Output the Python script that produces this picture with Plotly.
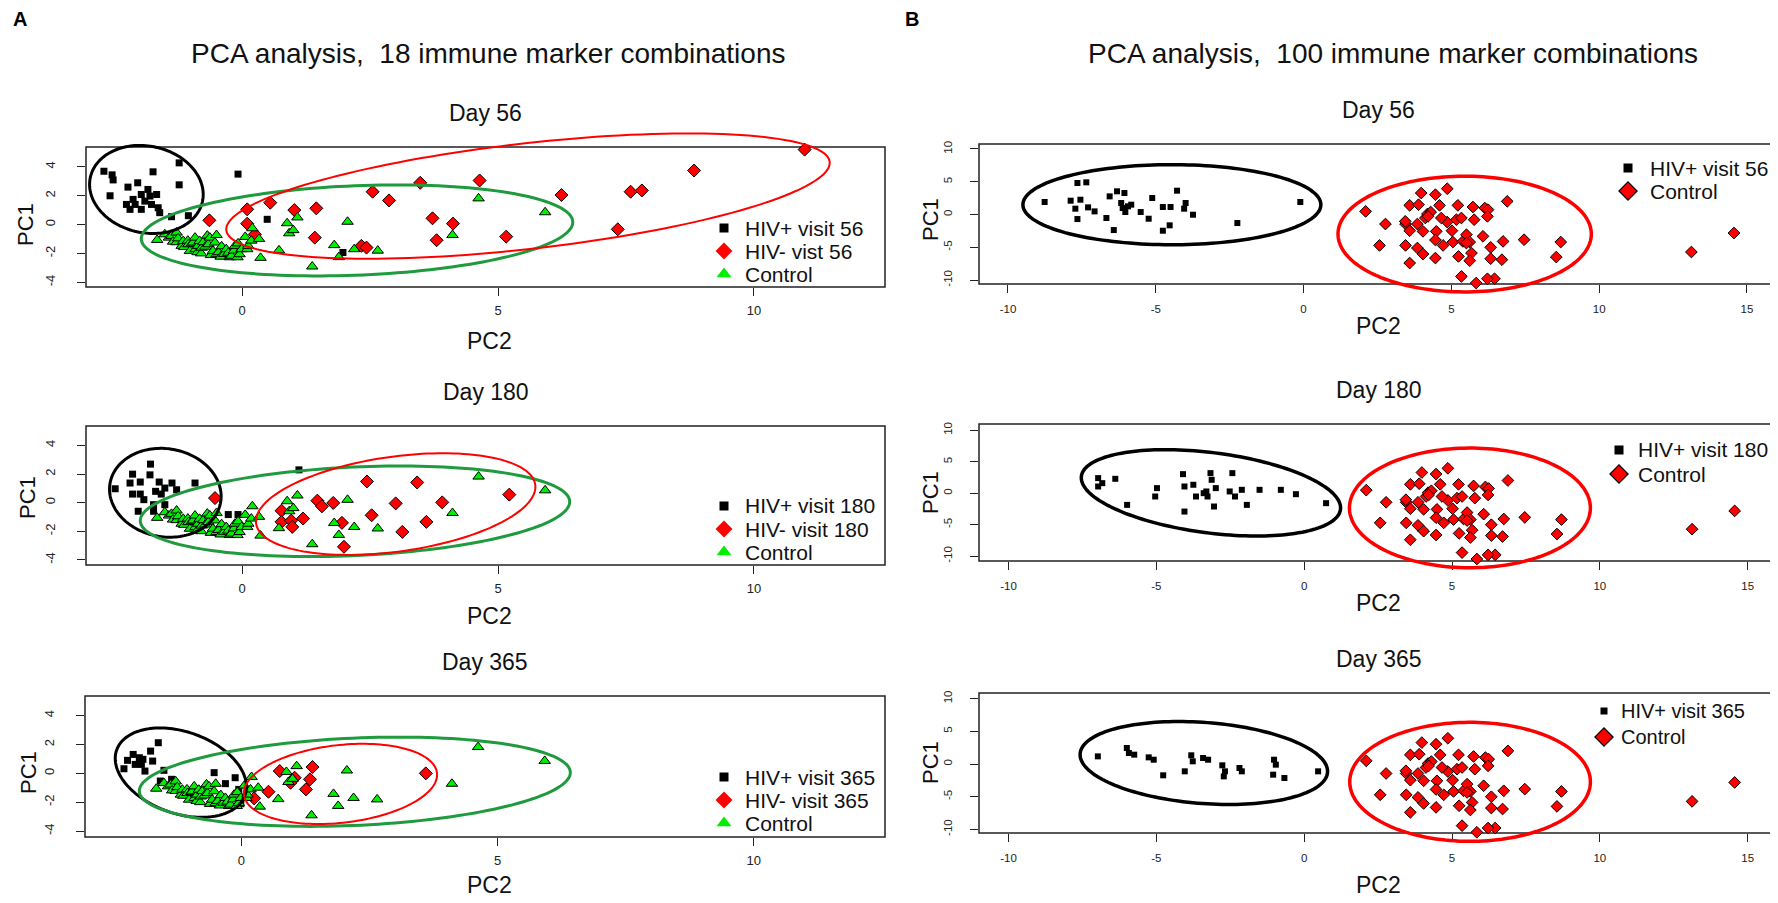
import numpy as np
import plotly.graph_objects as go

W, H = 1778, 903
FONT = "Liberation Sans, Arial, sans-serif"

# ---------------- panel A: 18 immune marker combinations ----------------
# controls are the same subjects at every visit
a_ctrl_x = [-1.66, -1.51, -1.43, -1.38, -1.35, -1.28, -1.28, -1.25, -1.18, -1.15, -1.13, -1.06, -1.05,
            -1.02, -0.98, -0.96, -0.92, -0.91, -0.87, -0.86, -0.83, -0.80, -0.79, -0.76, -0.72, -0.68,
            -0.66, -0.63, -0.61, -0.57, -0.53, -0.50, -0.50, -0.46, -0.42, -0.40, -0.35, -0.31, -0.27,
            -0.24, -0.21, -0.16, -0.14, -0.09, -0.08, -0.05, -0.01, 0.06, 0.10, 0.12, 0.18, 0.33,
            0.20, 0.36, 0.72, 0.88, 0.92, 1.00, 1.08, 1.37, 1.80, 1.89, 2.06, 2.19, 2.65, 4.11, 4.62, 5.92]
a_ctrl_y = [-1.06, -0.67, -0.90, -0.78, -1.18, -0.55, -1.22, -0.95, -1.47, -1.13, -1.55, -1.11, -1.36,
            -1.82, -1.30, -1.24, -0.90, -1.70, -1.91, -1.47, -1.13, -1.99, -1.60, -1.22, -1.53, -0.76,
            -1.36, -0.90, -2.11, -1.82, -1.24, -2.05, -0.72, -1.91, -2.22, -1.50, -2.03, -1.70, -1.95,
            -2.26, -2.16, -1.80, -1.47, -2.26, -1.30, -2.05, -1.70, -0.85, -1.70, -1.47, -1.11, -0.99,
            -0.25, -2.30, -1.78, 0.10, -0.60, -0.38, 0.50, -2.90, -1.42, -2.25, 0.20, -1.70, -1.80,
            -0.72, 1.82, 0.86]

a_pos56_x = [-2.70, -2.54, -2.52, -2.58, -1.74, -1.23, -1.23, -0.08, -2.23, -2.04, -1.84, -1.67, -1.97,
             -2.13, -2.26, -2.19, -1.97, -1.77, -1.64, -1.61, -1.90, -2.09, -1.80, -1.38, -1.05, 0.49, 1.97]
a_pos56_y = [3.70, 3.45, 3.10, 2.00, 3.66, 4.28, 2.76, 3.50, 2.60, 2.90, 2.44, 2.09, 2.09,
             1.75, 1.40, 1.06, 1.06, 1.40, 1.17, 0.83, 1.63, 1.40, 1.98, 0.55, 0.62, 0.37, -1.93]
a_neg56_x = [-0.64, 0.10, 0.55, 1.02, 1.45, 2.55, 2.87, 3.48, 0.10, 1.42, 3.72, 4.12, 3.80, 2.33,
             2.43, 0.25, 4.64, 6.24, 7.59, 7.81, 8.83, 10.99, 5.16, 7.34]
a_neg56_y = [0.30, 1.06, 1.52, 1.01, 1.13, 2.28, 1.68, 2.90, 0.07, -0.90, 0.44, 0.07, -1.08, -1.47,
             -1.59, -0.67, 3.06, 2.05, 2.28, 2.37, 3.75, 5.20, -0.83, -0.32]

a_pos180_x = [-2.48, -2.14, -1.79, -1.80, -2.19, -1.99, -2.14, -1.99, -1.92, -1.62, -1.58, -1.51,
              -1.37, -1.28, -1.69, -0.92, -1.73, -1.51, -2.03, -1.73, 1.11, -0.27, -0.08]
a_pos180_y = [0.97, 1.99, 2.69, 1.94, 1.37, 1.44, 0.60, 0.60, 0.21, 1.44, 0.60, 1.02,
              1.37, 0.90, 0.79, 1.37, -0.14, -0.14, -0.60, -0.60, 2.29, -0.83, -0.83]
a_neg180_x = [-0.53, 2.44, 3.42, 5.22, 3.91, 3.00, 1.78, 1.47, 1.56, 1.19, 0.77, 0.77, 0.96, 0.98,
              1.95, 2.53, 3.60, 3.13, 1.99]
a_neg180_y = [0.32, 1.48, 1.41, 0.56, 0.02, -0.05, -0.02, 0.14, -0.25, -1.11, -0.56, -1.34, -1.25,
              -1.69, -1.41, -0.88, -1.34, -2.04, -3.08]

a_pos365_x = [-2.29, -2.22, -2.11, -1.99, -1.95, -1.88, -2.07, -1.92, -1.77, -1.62, -1.73, -1.51,
              -1.58, -1.36, -0.53, -0.31, -0.12, -0.05, -0.01]
a_pos365_y = [0.32, 0.90, 1.31, 1.08, 0.62, 0.16, 0.62, 0.97, 1.54, 2.12, 0.85, 0.21,
              -0.53, -0.41, 0.05, -0.71, -0.30, -1.11, -2.10]
a_neg365_x = [0.75, 1.04, 1.39, 1.34, 1.26, 0.53, 0.25, 3.60, 0.96]
a_neg365_y = [0.16, -0.30, 0.44, -0.41, -1.11, -1.27, -1.73, 0.00, -0.65]

# ---------------- panel B: 100 immune marker combinations ----------------
b_ctrl_x = [2.10, 2.77, 2.57, 3.59, 3.45, 3.59, 3.45, 3.59, 3.85, 3.85, 3.89, 3.98, 4.04, 4.04, 4.12,
            4.19, 4.30, 4.46, 4.49, 4.46, 4.46, 4.60, 4.72, 4.86, 4.86, 5.02, 5.05, 5.17, 5.22, 5.24,
            5.34, 5.34, 5.39, 5.51, 5.62, 5.68, 5.62, 5.73, 5.77, 5.84, 6.07, 6.13, 6.24, 6.22, 6.33,
            6.33, 6.46, 6.22, 6.75, 6.71, 6.89, 7.46, 8.55, 8.70, 13.12, 14.56, 3.44, 4.21, 4.66, 5.51]
b_ctrl_y = [0.48, -1.45, -4.71, 1.40, -1.45, -2.47, -4.71, -7.40, -1.45, -5.11, 1.50, 3.28, -2.57,
            -6.03, -0.53, 0.08, 0.38, 3.03, -2.57, -3.89, -6.64, 1.40, -4.71, 3.94, -1.15, -2.47,
            -4.20, -0.79, 1.40, -6.39, -0.53, -9.44, -4.10, -3.08, -4.20, -5.88, -7.04, 1.15, -0.79,
            -10.45, -3.33, 0.99, 0.74, -0.28, -5.01, -6.74, -9.80, -9.80, -4.10, -6.89, 2.01, -3.84,
            -6.49, -4.20, -5.72, -2.82, -1.04, -0.28, -0.53, -4.35]

b_pos56_x = [-8.76, -7.88, -7.65, -7.35, -7.55, -7.72, -7.29, -7.07, -7.65, -6.67, -6.56, -6.31,
             -6.06, -6.17, -6.12, -5.94, -5.83, -6.03, -6.42, -5.51, -5.24, -5.12, -4.76, -4.50,
             -4.76, -4.53, -4.28, -3.99, -4.04, -3.74, -2.24, -0.11]
b_pos56_y = [1.91, 2.11, 4.81, 4.91, 2.26, 0.89, 1.09, 0.48, -0.69, -0.53, 2.77, 3.54,
             3.28, 1.76, 0.99, 1.25, 1.50, 0.38, -2.37, 0.38, -0.64, 2.52, 1.15, 1.15,
             -2.47, -1.65, 3.64, 1.76, 0.89, -0.03, -1.30, 1.91]
b_pos180_x = [-6.97, -6.97, -6.83, -6.39, -5.99, -4.98, -5.04, -4.10, -4.05, -3.75, -3.66, -4.05,
              -3.40, -3.27, -3.17, -3.13, -3.05, -2.99, -2.52, -2.43, -2.34, -2.11, -1.94, -1.51,
              -0.79, -0.28, 0.74, -3.31]
b_pos180_y = [2.39, 1.06, 1.59, 2.28, -1.86, 0.80, -0.53, 3.02, 1.06, 1.33, -0.53, -2.92,
              0.00, -0.53, 3.18, 2.12, -2.12, 0.80, 0.27, 3.18, -0.53, 0.53, -1.86, 0.53,
              0.53, -0.16, -1.59, 0.27]
b_pos365_x = [-6.98, -6.00, -5.93, -5.75, -5.26, -5.09, -4.77, -4.04, -3.82, -3.77, -3.42, -3.25,
              -2.77, -2.68, -2.72, -2.19, -2.11, -1.02, -0.96, -1.05, -0.67, 0.47]
b_pos365_y = [1.17, 2.45, 1.68, 1.43, 1.02, 0.66, -1.73, -1.12, 1.33, 0.41, 0.92, 0.66,
              -0.20, -1.12, -1.89, -0.61, -1.12, 0.66, -0.10, -1.63, -2.14, -1.12]

# tick values
a_xticks = [0, 5, 10]
a_yticks = [-4, -2, 0, 2, 4]
b_xticks = [-10, -5, 0, 5, 10, 15]
b_yticks = [-10, -5, 0, 5, 10]

# ellipses: centre, horizontal-extreme vector (ux, uy), vertical conjugate v
ell_a56 = [(-1.87, 2.44, 1.11, -0.35, 3.03, "black", 3),
           (2.245, -0.40, 4.215, 0.575, 3.10, "#1f9a3e", 3),
           (5.585, 1.98, 5.895, 2.30, 3.68, "#ff0000", 2)]
ell_a180 = [(-1.50, 0.69, 1.09, -0.25, 3.09, "black", 3),
            (2.205, -0.60, 4.195, 0.66, 3.09, "#1f9a3e", 3),
            (3.00, -0.10, 2.73, 1.20, 3.34, "#ff0000", 2)]
ell_a365 = [(-1.18, 0.05, 1.28, -0.98, 2.93, "black", 3),
            (2.215, -0.58, 4.205, 0.635, 3.02, "#1f9a3e", 3),
            (1.935, -0.73, 1.885, 0.635, 2.70, "#ff0000", 2)]
ell_b56 = [(-4.455, 1.50, 5.04, 0.0, 6.11, "black", 3.5),
           (5.45, -2.98, 4.285, 0.0, 8.83, "#ff0000", 3.5)]
ell_b180 = [(-3.155, 0.05, 4.385, -2.39, 6.42, "black", 3.5),
            (5.605, -2.34, 4.075, 0.0, 9.50, "#ff0000", 3.5)]
ell_b365 = [(-3.395, 0.155, 4.185, -1.275, 6.22, "black", 3.5),
            (5.61, -2.73, 4.07, 0.0, 9.11, "#ff0000", 3.5)]


def ellipse_path(cx, cy, ux, uy, v, n=160):
    t = np.linspace(0, 2 * np.pi, n)
    xs = cx + ux * np.cos(t)
    ys = cy + uy * np.cos(t) + v * np.sin(t)
    return "M " + " L ".join(f"{x:.4f},{y:.4f}" for x, y in zip(xs, ys)) + " Z"


# legend keys (R pch 15 / 18 / 17 on the left, pch 15 / 23 on the right)
KEY_SQ = dict(symbol="square", size=9, color="black")
KEY_SQ_SMALL = dict(symbol="square", size=7, color="black")
KEY_DI = dict(symbol="diamond", size=13, color="#ff0000")
KEY_TR = dict(symbol="triangle-up", size=13, color="#00ee00")
KEY_DI_OUT = dict(symbol="diamond", size=14, color="#ff0000", line=dict(color="black", width=1.2))

# panel frames in pixels: left, top, right, bottom ; data ranges
# leg = (key x, text x, first row y, row step, font size)
panels = [
    dict(box=(78, 139, 877, 279), xr=(-3.05, 12.56), yr=(-4.32, 5.38), col="A", day="Day 56",
         pos=(a_pos56_x, a_pos56_y), neg=(a_neg56_x, a_neg56_y), ell=ell_a56,
         names=("HIV+ visit 56", "HIV- vist 56", "Control"), keys=(KEY_SQ, KEY_DI, KEY_TR),
         leg=(716, 735, 220, 23, 21), pc1=(18, 217), pc2=(482, 333)),
    dict(box=(78, 418, 877, 557), xr=(-3.05, 12.56), yr=(-4.35, 5.35), col="A", day="Day 180",
         pos=(a_pos180_x, a_pos180_y), neg=(a_neg180_x, a_neg180_y), ell=ell_a180,
         names=("HIV+ visit 180", "HIV- visit 180", "Control"), keys=(KEY_SQ, KEY_DI, KEY_TR),
         leg=(716, 735, 498, 23, 21), pc1=(20, 490), pc2=(482, 608)),
    dict(box=(77, 688, 877, 829), xr=(-3.05, 12.56), yr=(-4.40, 5.35), col="A", day="Day 365",
         pos=(a_pos365_x, a_pos365_y), neg=(a_neg365_x, a_neg365_y), ell=ell_a365,
         names=("HIV+ visit 365", "HIV- visit 365", "Control"), keys=(KEY_SQ, KEY_DI, KEY_TR),
         leg=(716, 735, 769, 23, 21), pc1=(20, 765), pc2=(482, 877)),
    dict(box=(971, 136, 1770, 276), xr=(-10.98, 16.05), yr=(-10.6, 10.76), col="B", day="Day 56",
         pos=(b_pos56_x, b_pos56_y), ell=ell_b56,
         names=("HIV+ visit 56", "Control"), keys=(KEY_SQ, KEY_DI_OUT),
         leg=(1620, 1640, 160, 23, 21), pc1=(922, 212), pc2=(1370, 318)),
    dict(box=(971, 416, 1771, 553), xr=(-11.0, 16.06), yr=(-10.77, 10.98), col="B", day="Day 180",
         pos=(b_pos180_x, b_pos180_y), ell=ell_b180,
         names=("HIV+ visit 180", "Control"), keys=(KEY_SQ, KEY_DI_OUT),
         leg=(1611, 1628, 442, 24, 21), pc1=(922, 485), pc2=(1370, 595)),
    dict(box=(971, 685, 1771, 825), xr=(-11.0, 16.06), yr=(-10.56, 10.87), col="B", day="Day 365",
         pos=(b_pos365_x, b_pos365_y), ell=ell_b365,
         names=("HIV+ visit 365", "Control"), keys=(KEY_SQ_SMALL, KEY_DI_OUT),
         leg=(1596, 1611, 703, 26, 20), pc1=(922, 755), pc2=(1370, 877)),
]

fig = go.Figure()
PAD = 24
shapes, annotations = [], []
layout = {}


def add_text(text, px, py, size, color="#111", xanchor="center", angle=0):
    annotations.append(dict(text=text, x=px / W, y=1 - py / H, xref="paper", yref="paper",
                            showarrow=False, xanchor=xanchor, yanchor="middle", textangle=angle,
                            font=dict(size=size, family=FONT, color=color)))


for i, p in enumerate(panels, start=1):
    sfx = "" if i == 1 else str(i)
    xa, ya = "x" + sfx, "y" + sfx
    left, top, right, bottom = p["box"]
    y0, y1 = p["yr"]
    per_px = (y1 - y0) / (bottom - top)
    is_a = p["col"] == "A"
    xt = a_xticks if is_a else b_xticks
    yt = a_yticks if is_a else b_yticks

    layout["xaxis" + sfx] = dict(
        domain=[left / W, right / W], range=list(p["xr"]), anchor="free",
        position=1 - bottom / H, showgrid=False, zeroline=False, showline=False,
        ticks="outside", ticklen=8, tickwidth=1.3, tickcolor="#222",
        tickvals=xt, ticktext=[str(v) for v in xt],
        tickfont=dict(size=13 if is_a else 11.5, color="#222"),
        ticklabelstandoff=3 if is_a else 6)
    layout["yaxis" + sfx] = dict(
        domain=[1 - (bottom + PAD) / H, 1 - (top - PAD) / H],
        range=[y0 - PAD * per_px, y1 + PAD * per_px], anchor=xa,
        showgrid=False, zeroline=False, showline=False,
        ticks="outside", ticklen=8, tickwidth=1.3, tickcolor="#222",
        tickvals=yt, ticktext=[str(v) for v in yt], tickangle=-90,
        tickfont=dict(size=13 if is_a else 11.5, color="#222"),
        ticklabelstandoff=17 if is_a else 13)

    # frame
    shapes.append(dict(type="rect", xref="paper", yref="paper", x0=left / W, x1=right / W,
                       y0=1 - bottom / H, y1=1 - top / H, line=dict(color="#222", width=1.5),
                       layer="below"))
    # ellipses
    for cx, cy, ux, uy, v, color, lw in p["ell"]:
        shapes.append(dict(type="path", xref=xa, yref=ya, path=ellipse_path(cx, cy, ux, uy, v),
                           line=dict(color=color, width=lw), layer="above"))

    # data points
    if is_a:
        fig.add_trace(go.Scatter(x=p["pos"][0], y=p["pos"][1], mode="markers", xaxis=xa, yaxis=ya,
                                 marker=dict(symbol="square", size=7, color="black")))
        fig.add_trace(go.Scatter(x=p["neg"][0], y=p["neg"][1], mode="markers", xaxis=xa, yaxis=ya,
                                 marker=dict(symbol="diamond", size=10, color="#ff0000",
                                             line=dict(color="black", width=1))))
        fig.add_trace(go.Scatter(x=a_ctrl_x, y=a_ctrl_y, mode="markers", xaxis=xa, yaxis=ya,
                                 marker=dict(symbol="triangle-up", size=10, color="#00ee00",
                                             line=dict(color="black", width=1))))
    else:
        fig.add_trace(go.Scatter(x=p["pos"][0], y=p["pos"][1], mode="markers", xaxis=xa, yaxis=ya,
                                 marker=dict(symbol="square", size=6, color="black")))
        fig.add_trace(go.Scatter(x=b_ctrl_x, y=b_ctrl_y, mode="markers", xaxis=xa, yaxis=ya,
                                 marker=dict(symbol="diamond", size=9, color="#ff0000",
                                             line=dict(color="black", width=1))))

    # legend, drawn R style: key markers on a pixel overlay + text labels
    kx, tx, ly, step, fs = p["leg"]
    for k, (name, key) in enumerate(zip(p["names"], p["keys"])):
        yy = ly + k * step
        fig.add_trace(go.Scatter(x=[kx], y=[yy], mode="markers", xaxis="x7", yaxis="y7",
                                 marker=key, cliponaxis=False))
        add_text(name, tx, yy, fs, xanchor="left")

    # titles and axis labels
    add_text(p["day"], (left + right) / 2, top - 34, 23)
    add_text("PC1", p["pc1"][0], p["pc1"][1], 22, angle=-90)
    add_text("PC2", p["pc2"][0], p["pc2"][1], 23)

# pixel overlay for legend keys
layout["xaxis7"] = dict(domain=[0, 1], range=[0, W], visible=False, anchor="y7", fixedrange=True)
layout["yaxis7"] = dict(domain=[0, 1], range=[H, 0], visible=False, anchor="x7", fixedrange=True)

add_text("<b>A</b>", 12, 11, 20, color="black")
add_text("<b>B</b>", 904, 11, 20, color="black")
add_text("PCA analysis,  18 immune marker combinations", 480, 46, 28)
add_text("PCA analysis,  100 immune marker combinations", 1385, 46, 28)

fig.update_layout(width=W, height=H, margin=dict(l=0, r=0, t=0, b=0),
                  plot_bgcolor="rgba(0,0,0,0)", paper_bgcolor="white",
                  font=dict(family=FONT, color="#111"), showlegend=False,
                  shapes=shapes, annotations=annotations, **layout)

fig.write_html("out.html")
